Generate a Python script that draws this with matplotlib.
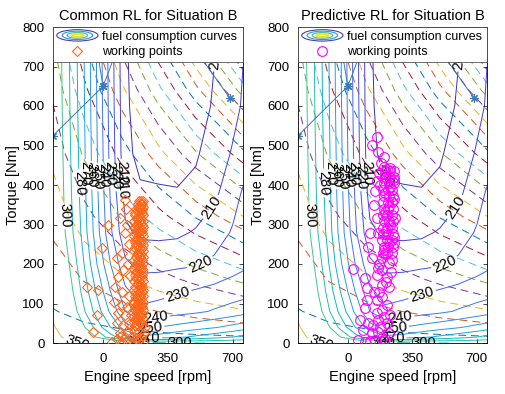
import matplotlib
matplotlib.use("Agg")
import matplotlib.pyplot as plt
from matplotlib.colors import LinearSegmentedColormap
from matplotlib.legend_handler import HandlerBase
from matplotlib.lines import Line2D
from matplotlib.patches import Ellipse

plt.rcParams["font.family"] = ["Liberation Sans", "DejaVu Sans"]
plt.rcParams["lines.dashed_pattern"] = [8, 5]

# ---- fuel consumption map (g/kWh) ----
map_speed = [-270, -200, -120, -40, 40, 120, 200, 300, 400, 500, 600, 700, 755]
map_torque = [0, 15, 40, 80, 130, 200, 280, 380, 480, 600, 800]
fuel_map = [
    [390, 365, 345, 330, 318, 310, 305, 302.5, 301.5, 300.5, 299.5, 299, 298.5],
    [370, 340, 318, 300, 285, 272, 262, 264, 268, 272, 276, 280, 283],
    [355, 326, 305, 287, 270, 254, 247, 250, 253, 256, 259, 263, 265],
    [340, 315, 295, 277, 258, 240, 232, 234, 236, 238, 241, 244, 246],
    [330, 309, 290, 270, 250, 232, 226, 227, 229, 231, 233, 235, 236],
    [322, 304, 285, 262, 240, 222, 217, 217, 218, 219, 222, 226, 228],
    [316, 299, 280, 256, 232, 212, 208, 207.5, 208, 211, 215, 221, 224],
    [314, 297, 278, 254, 229, 206, 201.5, 201, 200.5, 202, 208, 216, 221],
    [313, 296, 277, 253, 227, 203, 197, 196.5, 197, 199, 204, 211, 215],
    [312, 295, 276, 252, 226, 202, 195, 194, 194, 196, 201, 207, 211],
    [311, 294, 275, 251, 225, 201, 194, 193, 193, 195, 199, 205, 209],
]
fuel_levels = [200, 210, 220, 230, 240, 250, 260, 270, 280, 290, 300, 350]

# contour label spots (speed, torque)
label_speed = [-215, -140, -100, -67, -35, -3, 28, 60, 93, 140,
               592, 539, 404, 280, 253, 242, -140, 415, 190, 560]
label_torque = [324, 405, 430, 425, 420, 425, 430, 420, 430, 415,
                341, 185, 121, 76, 46, 15, 2, 0.3, 2, 725]

# ---- power hyperbolas (dashed) ----
power_speed = [-270, -100, 100, 300, 500, 755]
power_torque = [0, 80, 160, 320, 480, 640, 800]
power_map = [
    [0, 0, 0, 0, 0, 0],
    [20.0, 33.6, 49.6, 65.6, 81.6, 102.0],
    [40.0, 67.2, 99.2, 131.2, 163.2, 204.0],
    [80.0, 134.4, 198.4, 262.4, 326.4, 408.0],
    [120.0, 201.6, 297.6, 393.6, 489.6, 612.0],
    [160.0, 268.8, 396.8, 524.8, 652.8, 816.0],
    [200.0, 336.0, 496.0, 656.0, 816.0, 1020.0],
]
power_levels = [22, 65, 108, 151, 194, 237, 280, 323, 366, 409, 452,
                495, 538, 581, 624, 667, 710, 753, 796, 839, 882, 925]

# ---- full load curve pieces ----
fl_speed_a = [-270, 0, 122]
fl_torque_a = [525, 650, 800]
fl_speed_b = [0, -53]
fl_torque_b = [650, 800]
fl_speed_c = [411, 684]
fl_torque_c = [800, 620]

# ---- working points, common RL ----
band_torque = [45, 52, 60, 68, 75, 83, 90, 98, 105, 113, 120, 128, 135, 143, 150,
               158, 165, 173, 180, 188, 195, 203, 210, 218, 225, 233, 240, 248, 255,
               263, 270, 278, 285, 293, 300, 308, 315, 323, 330, 338, 345, 352, 360]
band_speed_a = [172, 165, 178, 168, 181, 170, 175, 183, 166, 177, 171, 180, 168, 174, 182,
                167, 176, 170, 179, 165, 173, 181, 169, 176, 184, 167, 172, 178, 170,
                180, 166, 175, 182, 171, 177, 168, 183, 174, 170, 179, 186, 190, 195]
band_speed_b = [190, 196, 188, 193, 199, 191, 186, 195, 192, 189, 197, 193, 187, 198, 190,
                194, 188, 196, 191, 199, 187, 193, 190, 197, 189, 195, 192, 186, 198,
                191, 194, 189, 196, 192, 188, 197, 190, 195, 193, 198, 200, 203, 205]
band_speed_c = [210, 205, 214, 207, 212, 216, 208, 211, 215, 206, 213, 209, 217, 210, 205,
                214, 211, 208, 216, 212, 207, 215, 210, 213, 206, 217, 209, 214, 211,
                207, 215, 212, 208, 216, 210, 213, 206, 214, 211, 209, 215, 212, 217]
spread_speed = [
    48, 102, 130, 160, 190, 215, 75, 95, 120, 150, 180, 205, 92, 135, 165, 195, 220,
    75, 110, 140, 170, 200, 225, 81, 120, 150, 185, 100, 130, 160,
    -86, -27, -32, -54, -5, 27, 75, 81, 65, 102, 92, 118, 102, 118, 125, 130, 140,
    135, 145, 110, 60, 140,
]
spread_torque = [
    2, 2, 4, 3, 5, 2, 10, 18, 15, 14, 12, 16, 25, 28, 30, 28, 25,
    51, 45, 48, 42, 50, 40, 76, 70, 72, 65, 95, 90, 100,
    142, 134, 71, 28, 240, 299, 215, 167, 142, 129, 316, 278, 228, 362, 340, 300, 250,
    200, 170, 185, 105, 120,
]
common_speed = band_speed_a + band_speed_b + band_speed_c + spread_speed
common_torque = band_torque + band_torque + band_torque + spread_torque

# ---- working points, predictive RL ----
pred_speed = [
    190, 215, 240, 195, 220, 245, 188, 212, 238, 193, 218, 243, 190, 214, 240,
    196, 221, 246, 189, 213, 239, 194, 219, 244, 191, 216, 241, 197, 222, 247,
    192, 217, 242, 198, 223, 248, 200, 225, 250, 203, 228, 252, 199, 224, 249,
    205, 230, 254, 201, 226, 251, 204, 229, 253, 202, 227, 250,
    129, 183, 226, 188, 156, 215, 183, 226, 92, 27, 102, 200, 170, 235, 205, 165, 240,
    188, 156, 183, 199, 135, 172, 210, 92, 65, 81, 54, 92, 145, 183, 129, 162, 226,
    108, 102, 156, 215, 170, 140, 200, 120, 165, 230,
    108, 118, 156, 162, 140, 150, 175,
    156, 129, 162, 199, 199, 180, 215, 170, 160,
]
pred_torque = [
    228, 228, 228, 244, 244, 244, 260, 260, 260, 276, 276, 276, 292, 292, 292,
    308, 308, 308, 324, 324, 324, 340, 340, 340, 356, 356, 356, 372, 372, 372,
    388, 388, 388, 404, 404, 404, 420, 420, 420, 436, 436, 436, 236, 252, 268,
    284, 300, 316, 332, 348, 364, 380, 396, 412, 428, 444, 252,
    215, 215, 203, 185, 172, 167, 147, 142, 164, 187, 139, 225, 200, 180, 155, 190, 210,
    116, 109, 84, 66, 46, 41, 51, 89, 58, 33, 8, 3, 8, 13, 25, 28, 25,
    51, 109, 76, 95, 130, 130, 10, 5, 58, 70,
    243, 278, 316, 278, 350, 385, 400,
    522, 501, 484, 471, 446, 455, 440, 430, 410,
]

speed_ticks = [0, 350, 700]
torque_ticks = [0, 100, 200, 300, 400, 500, 600, 700, 800]

parula = LinearSegmentedColormap.from_list("parula", [
    (0.2422, 0.1504, 0.6603), (0.2803, 0.2782, 0.9221), (0.2440, 0.4358, 0.9988),
    (0.1540, 0.5902, 0.9218), (0.0297, 0.7082, 0.8163), (0.1938, 0.7758, 0.6251),
    (0.4420, 0.7970, 0.4200), (0.7000, 0.7500, 0.2600), (0.9500, 0.7600, 0.2000),
    (0.9900, 0.8700, 0.1500), (0.9763, 0.9831, 0.0538)])
matlab_colors = ["#0072BD", "#D95319", "#EDB120", "#7E2F8E", "#77AC30", "#4DBEEE", "#A2142F"]


class ContourIcon(HandlerBase):
    def create_artists(self, legend, orig_handle, xdescent, ydescent, width, height, fontsize, trans):
        cx, cy = 0.5 * width - xdescent, 0.5 * height - ydescent
        out = []
        for s, c, lw in [(1.0, "#4A3FB0", 0.8), (0.74, "#2A9BD6", 0.8),
                         (0.5, "#3CBFA0", 0.8), (0.28, "#EFE02A", 1.4)]:
            out.append(Ellipse((cx, cy), width * s, height * 1.3 * s, fill=False,
                               edgecolor=c, linewidth=lw, transform=trans))
        return out


def draw_panel(ax, title, xs, ys, marker, color, ms):
    ax.contour(power_speed, power_torque, power_map, levels=power_levels,
               colors=[matlab_colors[i % 7] for i in range(len(power_levels))],
               linestyles="dashed", linewidths=0.7, zorder=1)
    cs = ax.contour(map_speed, map_torque, fuel_map, levels=fuel_levels, cmap=parula,
                    vmin=195, vmax=400, linewidths=0.7, zorder=1)
    cs.clabel(manual=list(zip(label_speed, label_torque)), inline=True, inline_spacing=2,
              fmt="%d", fontsize=10.5, colors="k")

    for sx, sy in [(fl_speed_a, fl_torque_a), (fl_speed_b, fl_torque_b), (fl_speed_c, fl_torque_c)]:
        ax.plot(sx, sy, color="#3A78B8", lw=0.7, marker=(8, 2, 0), ms=6, mew=0.8, zorder=2)

    ax.plot(xs, ys, ls="none", marker=marker, mfc="none", mec=color, ms=ms, mew=0.8, zorder=3)

    ax.set_xlim(-270, 755)
    ax.set_ylim(0, 800)
    ax.set_xticks(speed_ticks)
    ax.set_yticks(torque_ticks)
    ax.tick_params(direction="in", top=True, right=True, length=3, width=0.5, labelsize=9.5)
    ax.tick_params(axis="x", pad=7)
    ax.tick_params(axis="y", pad=6)
    for sp in ax.spines.values():
        sp.set_linewidth(0.6)
    ax.set_title(title, fontsize=10.5, pad=5)
    ax.set_xlabel("Engine speed [rpm]", fontsize=10.5, labelpad=4)
    ax.set_ylabel("Torque [Nm]", fontsize=10.5, labelpad=2)

    proxy = Ellipse((0, 0), 1, 1)
    wp = Line2D([], [], ls="none", marker=marker, mfc="none", mec=color, ms=ms, mew=0.8)
    leg = ax.legend([proxy, wp], ["fuel consumption curves", "working points"],
                    handler_map={proxy: ContourIcon()}, loc="upper left",
                    bbox_to_anchor=(0, 0, 1, 1), mode="expand", borderaxespad=0,
                    fontsize=9, handlelength=3.3, handletextpad=0.3, labelspacing=0.3,
                    borderpad=0.3, fancybox=False, framealpha=1, edgecolor="0.2")
    leg.get_frame().set_linewidth(0.5)
    leg.set_zorder(10)


fig = plt.figure(figsize=(5.06, 3.94), dpi=100)
ax1 = fig.add_axes([53 / 506, 51 / 394, 190 / 506, 316 / 394])
ax2 = fig.add_axes([298 / 506, 51 / 394, 189 / 506, 316 / 394])

draw_panel(ax1, "Common RL for Situation B", common_speed, common_torque, "D", "#FF6619", 5.5)
draw_panel(ax2, "Predictive RL for Situation B", pred_speed, pred_torque, "o", "#FF00FF", 7)

fig.savefig("out.png", dpi=100)
